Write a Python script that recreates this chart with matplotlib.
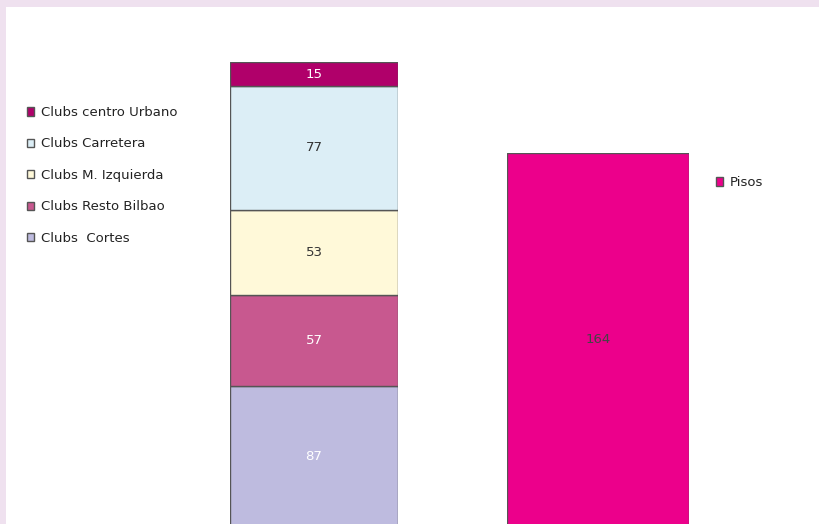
import matplotlib.pyplot as plt

# data
club_labels = ["Clubs  Cortes", "Clubs Resto Bilbao", "Clubs M. Izquierda",
               "Clubs Carretera", "Clubs centro Urbano"]
club_values = [87, 57, 53, 77, 15]
club_colors = ["#BEBBDF", "#C8588F", "#FFF9D9", "#DCEEF6", "#B0006A"]
club_text = ["white", "white", "#333333", "#333333", "white"]

pisos_label = "Pisos"
pisos_value = 164
pisos_color = "#EC008B"

plt.rcParams["font.family"] = ["Liberation Sans Narrow", "DejaVu Sans"]

W, H = 819, 524
fig = plt.figure(figsize=(W / 100, H / 100), dpi=100)
fig.patch.set_facecolor("#EFE1EF")

# white panel
panel = fig.add_axes([6 / W, 0, 1 - 6 / W, (H - 7) / H])
panel.set_facecolor("white")
panel.set_xticks([])
panel.set_yticks([])
for s in panel.spines.values():
    s.set_visible(False)

def px_axes(x0, x1, top, bot=-2):
    ax = fig.add_axes([x0 / W, bot / H, (x1 - x0) / W, (H - top - bot) / H])
    ax.set_facecolor("none")
    ax.axis("off")
    return ax

# stacked club bar
ax1 = px_axes(230, 398, 62)
bottom = 0
handles = []
for lab, v, c, tc in zip(club_labels, club_values, club_colors, club_text):
    b = ax1.bar(0, v, bottom=bottom, width=1.0, color=c, edgecolor="#555555",
                linewidth=1.0, label=lab)
    ax1.text(0, bottom + v / 2, str(v), ha="center", va="center",
             fontsize=9.5, color=tc)
    handles.append(b)
    bottom += v
ax1.set_xlim(-0.5, 0.5)
ax1.set_ylim(0, sum(club_values))

# pisos bar
ax2 = px_axes(507, 689, 153)
pb = ax2.bar(0, pisos_value, width=1.0, color=pisos_color, edgecolor="#555555",
             linewidth=1.0, label=pisos_label)
ax2.text(0, pisos_value / 2, str(pisos_value), ha="center", va="center",
         fontsize=9.5, color="#444444")
ax2.set_xlim(-0.5, 0.5)
ax2.set_ylim(0, pisos_value)

leg_kw = dict(frameon=False, fontsize=9.5, handlelength=0.5, handleheight=0.6,
              handletextpad=0.55, borderaxespad=0, borderpad=0,
              labelcolor="#222222")
fig.legend(handles[::-1], club_labels[::-1], loc="upper left",
           bbox_to_anchor=(27 / W, 1 - 106 / H), labelspacing=1.4, **leg_kw)
fig.legend([pb], [pisos_label], loc="upper left",
           bbox_to_anchor=(716 / W, 1 - 176 / H), **leg_kw)

fig.savefig("out.png", dpi=100, facecolor=fig.get_facecolor())
